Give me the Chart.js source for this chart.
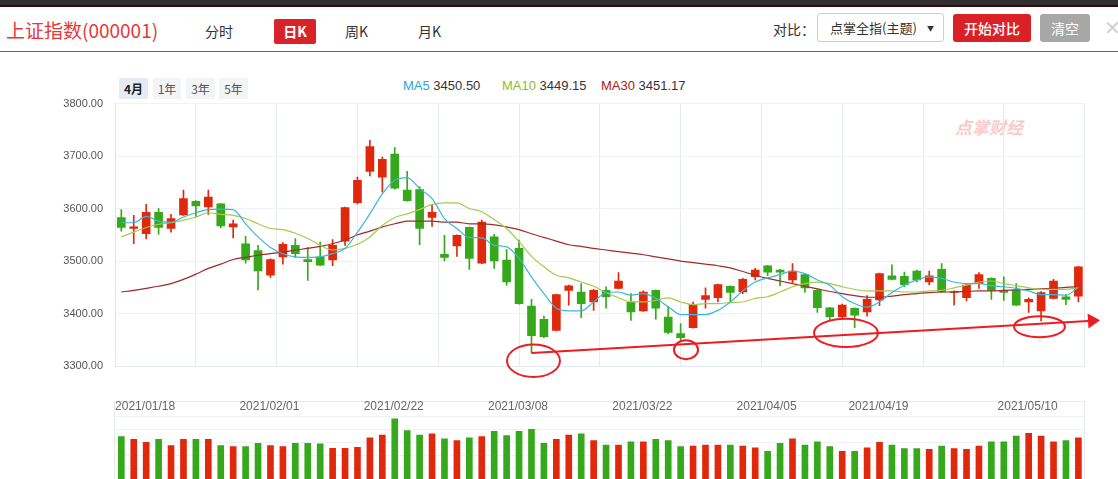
<!DOCTYPE html>
<html>
<head>
<meta charset="utf-8">
<script src="https://cdn.jsdelivr.net/npm/chart.js@4.4.1/dist/chart.umd.min.js"></script>
<style>
body{margin:0;width:1118px;height:479px;overflow:hidden;background:#fff;position:relative;font-family:"Noto Sans CJK SC","Noto Sans",sans-serif;color:#333}
.a{position:absolute;white-space:nowrap}
.topbar{left:0;top:0;width:1118px;height:5px;background:#303030;border-bottom:2px solid #3a0808}
.title{left:6px;top:18px;line-height:24px;font-size:19px;color:#e3393c}
.tab{top:19px;line-height:24px;font-size:14px;color:#333}
.btn{text-align:center;color:#fff;border-radius:3px}
.range{top:78px;height:21px;line-height:21px;font-size:12px;text-align:center;border-radius:2px;background:#f3f4f6;color:#555}
.ma{top:77px;line-height:18px;font-size:13px;font-family:"Liberation Sans",Arial,sans-serif;color:#333}
</style>
</head>
<body>
<div class="a topbar"></div>
<div class="a title">上证指数(000001)</div>
<div class="a tab" style="left:205px">分时</div>
<div class="a btn" style="left:274px;top:19px;width:42px;height:25px;line-height:25px;background:#d9232b;font-size:14px;font-weight:bold;border-radius:2px">日K</div>
<div class="a tab" style="left:345px">周K</div>
<div class="a tab" style="left:418px">月K</div>
<div class="a" style="left:773px;top:17px;line-height:24px;font-size:14px">对比：</div>
<div class="a" style="left:817px;top:13px;width:125px;height:27px;border:1px solid #cfcfcf;border-radius:3px;font-size:13px;line-height:27px">
  <span style="position:absolute;left:12px">点掌全指(主题)</span>
  <span style="position:absolute;left:109px;top:1px;font-size:7px">▼</span>
</div>
<div class="a btn" style="left:953px;top:14px;width:78px;height:28px;line-height:28px;background:#da2128;font-size:14px;font-weight:500">开始对比</div>
<div class="a btn" style="left:1040px;top:14px;width:50px;height:28px;line-height:28px;background:#a7a7a7;font-size:14px">清空</div>
<div class="a" style="left:1104px;top:13px;font-size:20px;line-height:28px;color:#d0d0d0">✕</div>
<div class="a" style="left:0;top:51px;width:1118px;height:1px;background:#e52d2d"></div>

<div class="a range" style="left:119px;width:29px;background:#e6ebf3;color:#222;font-weight:bold">4月</div>
<div class="a range" style="left:153px;width:28px">1年</div>
<div class="a range" style="left:186px;width:29px">3年</div>
<div class="a range" style="left:219px;width:29px">5年</div>

<div class="a ma" style="left:403px"><span style="color:#2aa9d6">MA5</span> 3450.50</div>
<div class="a ma" style="left:502px"><span style="color:#8dbd2c">MA10</span> 3449.15</div>
<div class="a ma" style="left:601px"><span style="color:#ad1a1a">MA30</span> 3451.17</div>

<div class="a" style="left:955px;top:114px;font-size:17px;font-weight:bold;font-style:italic;color:#f6cccc">点掌财经</div>

<div class="a" style="left:0;top:85px;width:1118px;height:308px"><canvas id="kline"></canvas></div>
<div class="a" style="left:114px;top:401px;width:969px;height:100px;border:1px solid #e4e9f0;border-bottom:none"></div>
<div class="a" style="left:0;top:395px;width:1118px;height:106px"><canvas id="vol"></canvas></div>

<script>
// daily bars, 2021/01/18 .. 2021/05/18
const opens = [3583,3562,3552,3593,3562,3588,3614,3603,3609,3565,3533,3520,3473,3508,3530,3503,3508,3502,3538,3611,
  3671,3660,3704,3635,3636,3583,3513,3529,3564,3496,3546,3502,3524,3414,3389,3368,3444,3441,3422,3444,
  3448,3422,3405,3444,3393,3362,3373,3427,3430,3452,3441,3470,3491,3483,3464,3474,3444,3411,3394,3410,
  3403,3426,3472,3471,3481,3460,3484,3440,3430,3457,3467,3444,3444,3422,3405,3429,3432,3433];
const highs = [3598,3587,3608,3600,3589,3635,3615,3635,3610,3578,3547,3530,3504,3535,3543,3526,3536,3541,3603,3660,
  3730,3698,3716,3671,3642,3606,3549,3550,3565,3578,3551,3522,3540,3427,3395,3437,3454,3457,3446,3451,
  3478,3438,3443,3445,3413,3381,3422,3449,3456,3453,3467,3486,3492,3484,3495,3475,3446,3412,3418,3411,
  3434,3477,3493,3479,3483,3481,3495,3443,3456,3478,3468,3470,3457,3430,3442,3465,3436,3490];
const lows = [3557,3533,3542,3551,3555,3587,3584,3589,3563,3544,3496,3445,3469,3494,3507,3463,3491,3491,3530,3609,
  3662,3631,3637,3614,3531,3566,3500,3509,3484,3495,3486,3454,3418,3325,3354,3367,3416,3392,3406,3410,
  3447,3387,3404,3389,3361,3349,3372,3410,3422,3422,3438,3464,3472,3453,3459,3440,3402,3386,3392,3373,
  3395,3415,3464,3451,3460,3455,3440,3416,3424,3448,3427,3425,3415,3402,3386,3428,3417,3422];
const closes = [3564,3565,3593,3564,3581,3619,3605,3622,3567,3571,3502,3481,3503,3532,3514,3499,3492,3530,3602,3654,
  3718,3694,3639,3615,3562,3593,3507,3549,3505,3574,3500,3460,3419,3358,3356,3436,3453,3419,3444,3432,
  3462,3403,3441,3410,3364,3354,3417,3434,3455,3440,3465,3483,3479,3479,3481,3449,3411,3394,3416,3397,
  3427,3476,3465,3455,3464,3472,3441,3442,3454,3474,3444,3440,3416,3427,3440,3462,3427,3489];

const ma5 = [3573,3573,3585,3576,3574,3584,3592,3598,3599,3598,3571,3546,3526,3514,3508,3507,3508,3514,3524,3555,
  3590,3628,3654,3659,3638,3619,3581,3562,3545,3544,3530,3527,3505,3470,3438,3410,3405,3405,3422,3440,
  3441,3435,3438,3429,3413,3398,3398,3398,3406,3422,3443,3460,3468,3474,3481,3476,3464,3454,3432,3419,
  3412,3422,3440,3454,3464,3470,3467,3460,3457,3457,3453,3451,3448,3443,3436,3436,3435,3450.5];
const ma10 = [3546,3555,3564,3570,3573,3578,3584,3592,3589,3587,3581,3571,3562,3560,3553,3543,3530,3521,3524,3532,
  3546,3568,3583,3590,3598,3608,3611,3611,3600,3594,3579,3562,3537,3509,3489,3473,3468,3460,3452,3440,
  3430,3422,3422,3425,3430,3422,3417,3419,3419,3421,3422,3429,3432,3441,3451,3457,3460,3457,3451,3446,
  3443,3443,3443,3441,3441,3443,3444,3449,3454,3460,3462,3457,3453,3449,3446,3446,3446,3449.15];
const ma30 = [3441,3444,3448,3452,3457,3465,3475,3486,3494,3503,3507,3511,3514,3517,3521,3524,3528,3533,3540,3550,
  3557,3565,3571,3576,3576,3576,3574,3574,3571,3571,3569,3565,3560,3552,3545,3538,3531,3528,3524,3521,
  3518,3515,3512,3508,3504,3500,3497,3494,3491,3487,3480,3473,3467,3462,3457,3452,3447,3442,3438,3434,
  3431,3431,3433,3436,3438,3440,3441,3441,3442,3443,3443,3444,3445,3446,3447,3448,3450,3451.17];

const volumes = [4410,4210,3980,4210,3720,4210,4210,4210,3720,3640,3640,3900,3720,3640,3900,3900,3850,3520,3520,3590,
  4330,4540,5790,4870,4540,4620,4250,4100,4330,4410,4820,4490,4820,4980,3900,4210,4540,4620,4100,3770,
  3770,4020,4020,4210,4100,3640,3690,3770,3770,3770,3690,3560,3290,3900,4250,3770,4020,3640,3290,3290,
  3560,3980,3770,3490,3490,3440,3690,3490,3440,3690,4020,4020,4460,4670,4460,4020,4100,4330];

const dateTickIdx = [0, 10, 20, 30, 40, 50, 59, 71];
const dateTickLabels = ['2021/01/18','2021/02/01','2021/02/22','2021/03/08','2021/03/22','2021/04/05','2021/04/19','2021/05/10'];
const priceTicks = [3300, 3400, 3500, 3600, 3700, 3800];

// hand-drawn markup: ellipse centre (bar, price) and radii (bars, price)
const circleX = [33.16, 45.43, 58.3, 73.87];
const circleY = [3310, 3331, 3363, 3375];
const circleRX = [2.13, 0.97, 2.57, 2.05];
const circleRY = [31, 18, 27, 20];
const trendFrom = [33, 3325];
const trendTo = [78.74, 3387];

const RED = '#e0290c', GREEN = '#36a81b';
const FONT = '"Liberation Sans", Arial, sans-serif';
const n = closes.length;
const up = closes.map((c, i) => c >= opens[i]);
const barColors = up.map(u => u ? RED : GREEN);
const xMin = -0.5, xMax = n - 0.5;
const gridTicks = [];
for (let k = 0; k <= 12; k++) gridTicks.push(xMin + k * (xMax - xMin) / 12);

const markup = {
  id: 'markup',
  afterDraw(chart) {
    const { ctx, scales: { x, y } } = chart;
    ctx.save();
    ctx.strokeStyle = '#ee1b22';
    ctx.fillStyle = '#ee1b22';
    ctx.lineWidth = 2;
    circleX.forEach((cx, i) => {
      const px = x.getPixelForValue(cx), py = y.getPixelForValue(circleY[i]);
      const rx = Math.abs(x.getPixelForValue(cx + circleRX[i]) - px);
      const ry = Math.abs(y.getPixelForValue(circleY[i] + circleRY[i]) - py);
      ctx.beginPath();
      ctx.ellipse(px, py, rx, ry, 0, 0, Math.PI * 2);
      ctx.stroke();
    });
    const x0 = x.getPixelForValue(trendFrom[0]), y0 = y.getPixelForValue(trendFrom[1]);
    const x1 = x.getPixelForValue(trendTo[0]), y1 = y.getPixelForValue(trendTo[1]);
    const ang = Math.atan2(y1 - y0, x1 - x0);
    const head = 12, half = 7.5;
    const bx = x1 - head * Math.cos(ang), by = y1 - head * Math.sin(ang);
    ctx.beginPath();
    ctx.moveTo(x0, y0);
    ctx.lineTo(bx, by);
    ctx.stroke();
    ctx.beginPath();
    ctx.moveTo(x1, y1);
    ctx.lineTo(bx + half * Math.sin(ang), by - half * Math.cos(ang));
    ctx.lineTo(bx - half * Math.sin(ang), by + half * Math.cos(ang));
    ctx.closePath();
    ctx.fill();
    ctx.restore();
  }
};

const pts = arr => arr.map((v, i) => ({ x: i, y: v }));
const maLine = (data, color) => ({
  type: 'line', data: pts(data), borderColor: color, borderWidth: 1.2,
  pointRadius: 0, cubicInterpolationMode: 'monotone', order: 0
});

new Chart(document.getElementById('kline'), {
  type: 'bar',
  data: {
    datasets: [
      maLine(ma5, '#3cb6dc'),
      maLine(ma10, '#a6ca4c'),
      maLine(ma30, '#9f2b2c'),
      { data: opens.map((o, i) => ({ x: i, y: [o, closes[i]] })), backgroundColor: barColors,
        barThickness: 8, grouped: false, order: 1 },
      { data: lows.map((l, i) => ({ x: i, y: [l, highs[i]] })), backgroundColor: barColors,
        barThickness: 1, grouped: false, order: 2 }
    ]
  },
  options: {
    responsive: true, maintainAspectRatio: false, animation: false,
    layout: { padding: { top: 10, right: 33.4, bottom: 27, left: 0 } },
    plugins: { legend: { display: false }, tooltip: { enabled: false } },
    scales: {
      x: {
        type: 'linear', min: xMin, max: xMax, offset: false,
        afterBuildTicks: s => { s.ticks = gridTicks.map(v => ({ value: v })); },
        afterFit: s => { s.height = 0; },
        ticks: { display: false },
        grid: { color: '#e4eaf2', drawTicks: false, offset: false },
        border: { color: '#e4eaf2' }
      },
      y: {
        min: 3300, max: 3800,
        afterBuildTicks: s => { s.ticks = priceTicks.map(v => ({ value: v })); },
        afterFit: s => { s.width = 115.1; },
        ticks: { padding: 12, color: '#555', font: { size: 11, family: FONT }, callback: v => v.toFixed(2) },
        grid: { color: '#f0f2f5', drawTicks: false },
        border: { color: '#e0e6ee' }
      }
    }
  },
  plugins: [markup]
});

new Chart(document.getElementById('vol'), {
  type: 'bar',
  data: {
    datasets: [{ data: pts(volumes), backgroundColor: barColors, barThickness: 6 }]
  },
  options: {
    responsive: true, maintainAspectRatio: false, animation: false,
    layout: { padding: { top: 0, right: 33.4, bottom: 7, left: 0 } },
    plugins: { legend: { display: false }, tooltip: { enabled: false } },
    scales: {
      x: {
        type: 'linear', position: 'top', min: xMin, max: xMax, offset: false,
        afterBuildTicks: s => { s.ticks = dateTickIdx.map(v => ({ value: v - 0.5 })); },
        afterFit: s => { s.height = 21; },
        ticks: { autoSkip: false, maxRotation: 0, align: 'start', padding: 2, color: '#666',
          font: { size: 12, family: FONT }, callback: (v, i) => dateTickLabels[i] },
        grid: { display: false, drawTicks: false, offset: false },
        border: { display: false }
      },
      y: {
        min: 0, max: 6000,
        afterFit: s => { s.width = 115.1; },
        ticks: { display: false, stepSize: 1000 },
        grid: { color: '#eef1f5', drawTicks: false },
        border: { display: false }
      }
    }
  }
});
</script>
</body>
</html>
